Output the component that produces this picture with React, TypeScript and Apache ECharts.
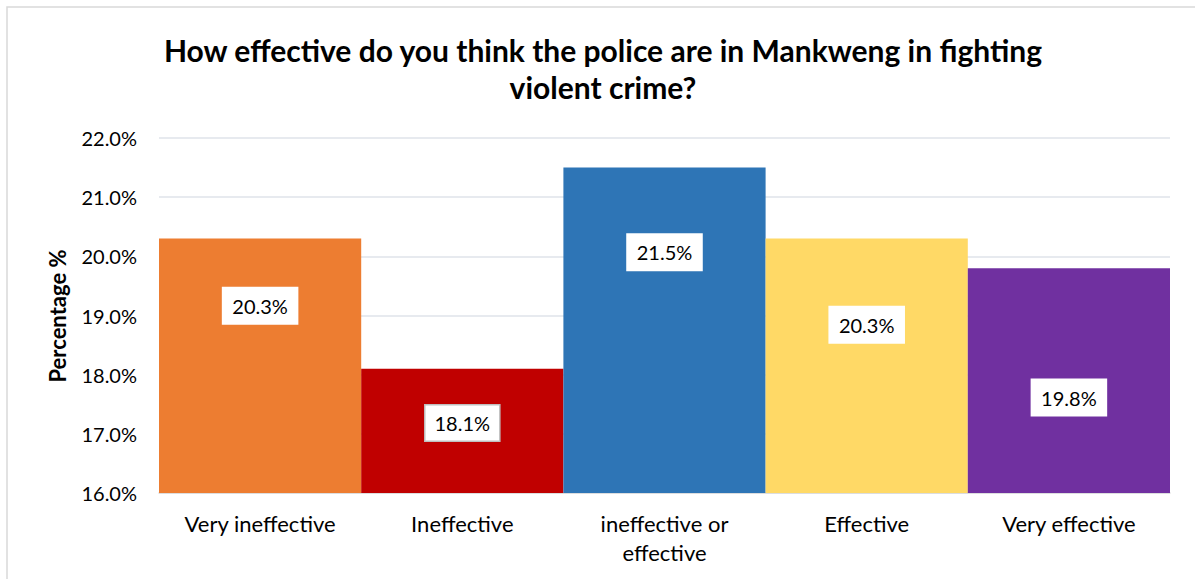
import React, { useEffect, useRef } from "react";
import * as echarts from "echarts";

const categories = ["Very ineffective", "Ineffective", "ineffective or\neffective", "Effective", "Very effective"];
const values = [20.3, 18.1, 21.5, 20.3, 19.8];
const colors = ["#ED7D31", "#C00000", "#2E75B6", "#FFD966", "#7030A0"];
const labelOffsets = [-60, -8, -78, -41, 17];
const labelBorders = ["#ffffff", "#bfbfbf", "#ffffff", "#ffffff", "#ffffff"];
const yTicks = { min: 16, max: 22, interval: 1 };
const titleText = "How effective do you think the police are in Mankweng in fighting\nviolent crime?";
const yAxisTitle = "Percentage %";

const FONT = "Lato, 'Open Sans', sans-serif";

export default function App() {
  const ref = useRef<HTMLDivElement>(null);
  useEffect(() => {
    if (!ref.current) return;
    const chart = echarts.init(ref.current, null, { renderer: "svg" });
    chart.setOption({
      animation: false,
      backgroundColor: "#ffffff",
      textStyle: { fontFamily: FONT },
      grid: { left: 159, right: 25, top: 138, bottom: 86, containLabel: false },
      graphic: [
        {
          type: "rect",
          shape: { x: 7, y: 7, width: 1200, height: 600 },
          style: { fill: "none", stroke: "#d9d9d9", lineWidth: 1.5 },
          silent: true,
        },
        {
          type: "text",
          x: 603,
          y: 68,
          style: {
            text: titleText,
            fontFamily: FONT,
            fontSize: 30,
            fontWeight: "bold",
            fill: "#000000",
            align: "center",
            verticalAlign: "middle",
            lineHeight: 37,
          },
        },
        {
          type: "text",
          x: 57,
          y: 316,
          rotation: Math.PI / 2,
          style: {
            text: yAxisTitle,
            fontFamily: FONT,
            fontSize: 22,
            fontWeight: "bold",
            fill: "#000000",
            align: "center",
            verticalAlign: "middle",
          },
        },
      ],
      xAxis: {
        type: "category",
        data: categories,
        axisTick: { show: false },
        axisLine: { show: true, lineStyle: { color: "#d9d9d9", width: 1.5 } },
        axisLabel: {
          color: "#000000",
          fontFamily: FONT,
          fontSize: 22,
          margin: 16,
          lineHeight: 29,
          interval: 0,
        },
      },
      yAxis: {
        type: "value",
        min: yTicks.min,
        max: yTicks.max,
        interval: yTicks.interval,
        axisLine: { show: false },
        axisTick: { show: false },
        splitLine: { lineStyle: { color: "#dfe3ea", width: 1.5 } },
        axisLabel: {
          color: "#000000",
          fontFamily: FONT,
          fontSize: 20,
          margin: 22,
          formatter: (v: number) => v.toFixed(1) + "%",
        },
      },
      series: [
        {
          type: "bar",
          barCategoryGap: "0%",
          data: values.map((v, i) => ({
            value: v,
            itemStyle: { color: colors[i] },
            label: { offset: [0, labelOffsets[i]], borderColor: labelBorders[i] },
          })),
          label: {
            show: true,
            position: "inside",
            formatter: (p: any) => p.value.toFixed(1) + "%",
            color: "#000000",
            fontFamily: FONT,
            fontSize: 20,
            backgroundColor: "#ffffff",
            borderWidth: 1.5,
            padding: [8, 9, 7, 9],
          },
        },
      ],
    });
    return () => chart.dispose();
  }, []);
  return (
    <div
      ref={ref}
      style={{ position: "fixed", left: 0, top: 0, width: 1195, height: 579 }}
    />
  );
}
